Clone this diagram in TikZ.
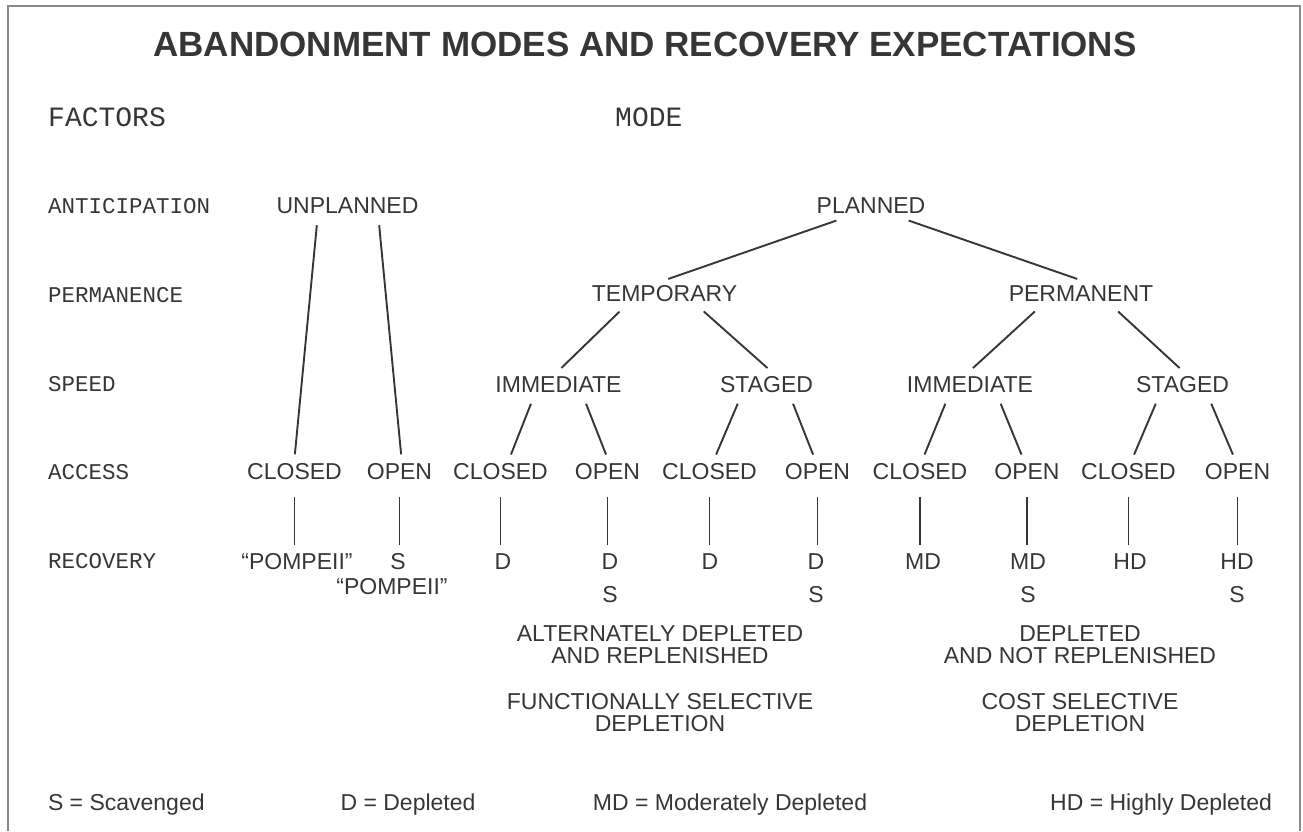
\documentclass[tikz,border=0pt]{standalone}
\usepackage{fontspec}
\setmainfont{Liberation Sans}
\setmonofont{Liberation Mono}
\usepackage{xcolor}

\definecolor{ink}{HTML}{363636}
\definecolor{framegray}{HTML}{8A8A8A}

\tikzset{
  choice/.style={inner sep=0pt, outer xsep=0pt, outer ysep=5pt, text height=16.5pt, text depth=0pt,
    font=\fontsize{23}{22}\selectfont, text=ink},
  rowlabel/.style={anchor=west, inner sep=0pt, text height=13pt, text depth=0pt,
    font=\ttfamily\fontsize{22.5}{24}\selectfont, text=ink},
  header/.style={anchor=west, inner sep=0pt, text height=16pt, text depth=0pt,
    font=\ttfamily\fontsize{28}{30}\selectfont, text=ink},
  remark/.style={anchor=north, align=center, inner sep=0pt,
    font=\fontsize{23}{22}\selectfont, text=ink},
  branch/.style={draw=ink, line width=1.9pt, shorten <=7pt, shorten >=4pt},
  stem/.style={draw=ink, line width=1.9pt, shorten <=12pt, shorten >=3pt},
}

\begin{document}
\begin{tikzpicture}[x=1pt, y=-1pt]
    \useasboundingbox (0,0) rectangle (1303,831);
    % frame
    \draw[framegray, line width=1.5pt] (8,831) -- (8,6) -- (1300,6) -- (1300,831);

    \node[text=ink, inner sep=0pt, font=\bfseries\fontsize{35}{38}\selectfont] (title) at (645,44.5)
        {ABANDONMENT MODES AND RECOVERY EXPECTATIONS};

    % column heads and factors
    \node[header] (factors) at (48,118) {FACTORS};
    \node[header] (modehead) at (615,118) {MODE};
    \node[rowlabel] (lantic) at (48,207) {ANTICIPATION};
    \node[rowlabel] (lperm) at (48,296) {PERMANENCE};
    \node[rowlabel] (lspeed) at (48,385) {SPEED};
    \node[rowlabel] (laccess) at (48,473) {ACCESS};
    \node[rowlabel] (lrecov) at (48,562) {RECOVERY};

    % tree
    \node[choice] (unpl) at (347.5,205) {UNPLANNED};
    \node[choice] (plan) at (871,205) {PLANNED};
    \node[choice] (temp) at (664.5,293.5) {TEMPORARY};
    \node[choice] (perm) at (1081,293.5) {PERMANENT};
    \node[choice] (timm) at (558.5,384) {IMMEDIATE};
    \node[choice] (tstg) at (766.5,384) {STAGED};
    \node[choice] (pimm) at (970,384) {IMMEDIATE};
    \node[choice] (pstg) at (1182.5,384) {STAGED};

    \node[choice] (ucl) at (294.5,471.5) {CLOSED};
    \node[choice] (uop) at (399.5,471.5) {OPEN};
    \node[choice] (ticl) at (500.5,471.5) {CLOSED};
    \node[choice] (tiop) at (607.5,471.5) {OPEN};
    \node[choice] (tscl) at (709.5,471.5) {CLOSED};
    \node[choice] (tsop) at (817.5,471.5) {OPEN};
    \node[choice] (picl) at (920,471.5) {CLOSED};
    \node[choice] (piop) at (1027,471.5) {OPEN};
    \node[choice] (pscl) at (1128.5,471.5) {CLOSED};
    \node[choice] (psop) at (1237.5,471.5) {OPEN};

    % recovery
    \node[choice] (r1) at (297,561) {“POMPEII”};
    \node[choice] (r2) at (398,561) {S};
    \node[choice] (r3) at (503,561) {D};
    \node[choice] (r4) at (610,561) {D};
    \node[choice] (r5) at (710,561) {D};
    \node[choice] (r6) at (816,561) {D};
    \node[choice] (r7) at (923,561) {MD};
    \node[choice] (r8) at (1028,561) {MD};
    \node[choice] (r9) at (1130,561) {HD};
    \node[choice] (r10) at (1237,561) {HD};
    \node[choice] (q2) at (392,586) {“POMPEII”};
    \node[choice] (q4) at (610,594) {S};
    \node[choice] (q6) at (816,594) {S};
    \node[choice] (q8) at (1028,594) {S};
    \node[choice] (q10) at (1237,594) {S};

    \node[remark] (altdep) at (660,625) {ALTERNATELY DEPLETED\\AND REPLENISHED};
    \node[remark] (funsel) at (660,693) {FUNCTIONALLY SELECTIVE\\DEPLETION};
    \node[remark] (notrep) at (1080,625) {DEPLETED\\AND NOT REPLENISHED};
    \node[remark] (costsel) at (1080,693) {COST SELECTIVE\\DEPLETION};

    % legend
    \node[choice, anchor=west] (keys) at (48,802) {S = Scavenged};
    \node[choice] (keyd) at (408,802) {D = Depleted};
    \node[choice] (keymd) at (730,802) {MD = Moderately Depleted};
    \node[choice, anchor=east] (keyhd) at (1272,802) {HD = Highly Depleted};

    % branches
    \draw[branch] ([xshift=-30pt]unpl.south) -- (ucl.north);
    \draw[branch] ([xshift=31pt]unpl.south) -- ([xshift=2pt]uop.north);
    \draw[branch] ([xshift=-28pt]plan.south) -- (temp.north);
    \draw[branch] ([xshift=31pt]plan.south) -- (perm.north);
    \draw[branch] ([xshift=-40pt]temp.south) -- (timm.north);
    \draw[branch] ([xshift=34pt]temp.south) -- ([xshift=4pt]tstg.north);
    \draw[branch] ([xshift=-41pt]perm.south) -- (pimm.north);
    \draw[branch] ([xshift=32pt]perm.south) -- (pstg.north);
    \draw[branch] ([xshift=-25pt]timm.south) -- ([xshift=9pt]ticl.north);
    \draw[branch] ([xshift=25pt]timm.south) -- (tiop.north);
    \draw[branch] ([xshift=-26pt]tstg.south) -- ([xshift=5pt]tscl.north);
    \draw[branch] ([xshift=24pt]tstg.south) -- ([xshift=-3pt]tsop.north);
    \draw[branch] ([xshift=-22pt]pimm.south) -- ([xshift=3pt]picl.north);
    \draw[branch] ([xshift=28pt]pimm.south) -- ([xshift=-4pt]piop.north);
    \draw[branch] ([xshift=-24pt]pstg.south) -- ([xshift=4pt]pscl.north);
    \draw[branch] ([xshift=26pt]pstg.south) -- ([xshift=-3pt]psop.north);

    % stems down to recovery
    \foreach \a/\r in {ucl/r1, uop/r2, ticl/r3, tiop/r4, tscl/r5, tsop/r6, picl/r7, piop/r8, pscl/r9, psop/r10}
        \draw[stem] (\a.south) -- (\a.south |- \r.north);

\end{tikzpicture}
\end{document}
